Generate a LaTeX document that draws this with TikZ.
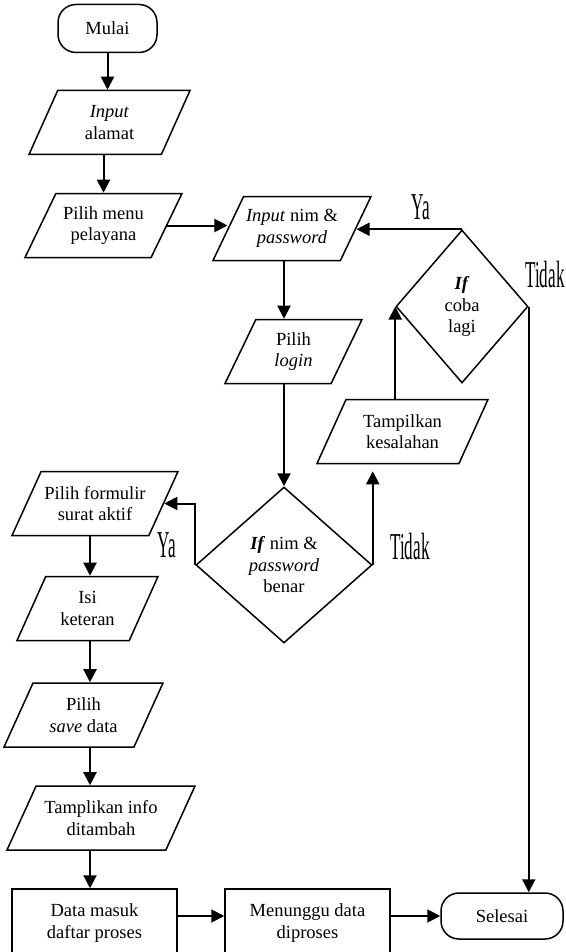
\documentclass[tikz,border=0pt]{standalone}
\usepackage{fontspec}
\usepackage{graphicx}
\setmainfont{Liberation Serif}
\usetikzlibrary{shapes.geometric,arrows.meta}
\newcommand{\yesno}[1]{\scalebox{0.45}[1]{\fontsize{38}{38}\selectfont #1}}

\begin{document}
\begin{tikzpicture}[x=1pt,y=-1pt,
    every node/.style={font=\fontsize{18.5}{21.5}\selectfont, align=center},
    terminal/.style={draw, line width=1.5pt, rounded corners=18pt, minimum width=99pt, minimum height=48pt, inner sep=0pt},
    io/.style={draw, line width=1.5pt, trapezium, trapezium left angle=64, trapezium right angle=116, trapezium stretches body, minimum height=64pt, inner xsep=0pt, inner ysep=12.5pt},
    process/.style={draw, line width=1.5pt, minimum width=165pt, minimum height=68pt, inner sep=0pt},
    decision/.style={draw, line width=1.5pt, diamond, inner sep=0pt},
    flow/.style={line width=2pt, -{Triangle[length=13pt,width=13pt]}}]
      \clip (0,0) rectangle (565,952);
      \node[terminal] (mulai) at (107.5,28.5) {Mulai};
      \node[io, minimum width=161pt] (alamat) at (109.5,122.5) {\textit{Input}\\alamat};
      \node[io, minimum width=157pt] (menu) at (103.5,225.5) {Pilih menu\\pelayana};
      \node[io, minimum width=158pt] (nim) at (292,228.5) {\textit{Input} nim \&\\\textit{password}};
      \node[io, minimum width=137pt] (login) at (293.5,351.5) {Pilih\\\textit{login}};
      \node[io, minimum width=171pt] (salah) at (402.5,431.5) {Tampilkan\\kesalahan};
      \node[decision, minimum width=132pt, minimum height=153pt] (coba) at (462,306.5) {\textbf{\textit{If}}\\coba\\lagi};
      \node[decision, minimum width=176pt, minimum height=156pt] (cek) at (284,565) {\textbf{\textit{If}} nim \&\\\textit{password}\\benar};
      \node[io, minimum width=166pt] (formulir) at (95,503.5) {Pilih formulir\\surat aktif};
      \node[io, minimum width=141pt] (keteran) at (87.5,608.5) {Isi\\keteran};
      \node[io, minimum width=159pt] (simpan) at (83.5,715) {Pilih\\\textit{save} data};
      \node[io, minimum width=188pt] (info) at (101,818) {Tamplikan info\\ditambah};
      \node[process] (masuk) at (94.5,923) {Data masuk\\daftar proses};
      \node[process] (tunggu) at (307.5,923) {Menunggu data\\diproses};
      \node[terminal, minimum width=122pt, minimum height=46pt] (selesai) at (502,916) {Selesai};
      \node (ya1) at (421,207) {\yesno{Ya}};
      \node (tidak1) at (545,275) {\yesno{Tidak}};
      \node (ya2) at (167,545) {\yesno{Ya}};
      \node (tidak2) at (410,546) {\yesno{Tidak}};
      \coordinate (kiri) at (90,0);
      \begin{scope}[flow]
        \draw (mulai.south) -- (mulai.south |- alamat.north);
        \draw (menu.north |- alamat.south) -- (menu.north);
        \draw (menu.east) -- (menu.east -| nim.west);
        \draw (cek.north |- nim.south) -- (cek.north |- login.north);
        \draw (cek.north |- login.south) -- (cek.north);
        \draw (cek.west) |- (formulir.east);
        \draw[shorten >=7pt] (cek.east) -- (cek.east |- salah.south);
        \draw (coba.west |- salah.north) -- (coba.west);
        \draw (coba.north) -- (coba.north -| nim.east);
        \draw (coba.east) -- (coba.east |- selesai.north);
        \draw (kiri |- formulir.south) -- (kiri |- keteran.north);
        \draw (kiri |- keteran.south) -- (kiri |- simpan.north);
        \draw (kiri |- simpan.south) -- (kiri |- info.north);
        \draw (kiri |- info.south) -- (kiri |- masuk.north);
        \draw (masuk.east |- selesai.west) -- (tunggu.west |- selesai.west);
        \draw (tunggu.east |- selesai.west) -- (selesai.west);
      \end{scope}
    \end{tikzpicture}
\end{document}
